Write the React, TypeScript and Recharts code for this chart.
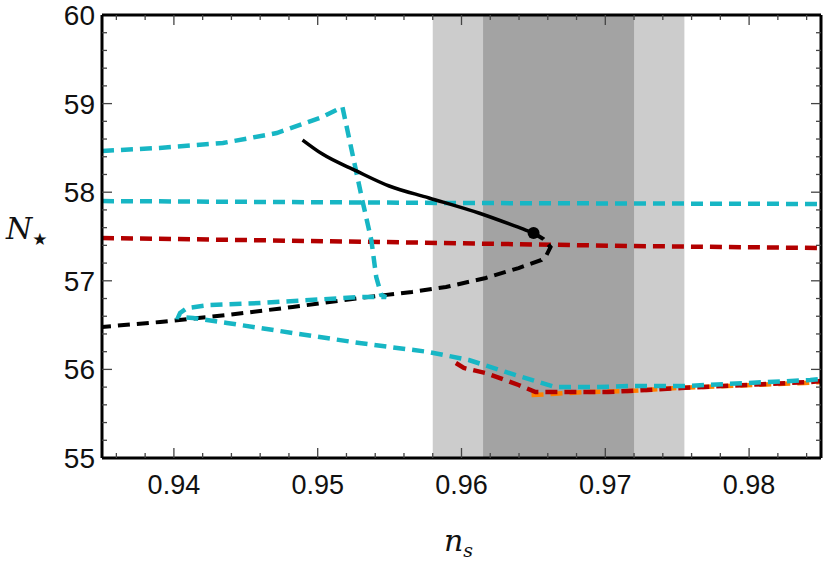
import React from 'react';
import { LineChart, Line, XAxis, YAxis, ReferenceArea, ReferenceDot } from 'recharts';

// ---- data (n_s, N_star) ----
const cyanLoop = [
  { ns: 0.935, N: 58.465 },
  { ns: 0.939, N: 58.5 },
  { ns: 0.94341, N: 58.555 },
  { ns: 0.94715, N: 58.668 },
  { ns: 0.95033, N: 58.849 },
  { ns: 0.95172, N: 58.962 },
  { ns: 0.9531, N: 57.912 },
  { ns: 0.95373, N: 57.46 },
  { ns: 0.95407, N: 57.043 },
  { ns: 0.95442, N: 56.84 },
  { ns: 0.95476, N: 56.817 },
  { ns: 0.9529, N: 56.817 },
  { ns: 0.94943, N: 56.783 },
  { ns: 0.94597, N: 56.749 },
  { ns: 0.94251, N: 56.727 },
  { ns: 0.94092, N: 56.693 },
  { ns: 0.94043, N: 56.637 },
  { ns: 0.9403, N: 56.59 },
  { ns: 0.94133, N: 56.58 },
  { ns: 0.94369, N: 56.524 },
  { ns: 0.94826, N: 56.411 },
  { ns: 0.9529, N: 56.298 },
  { ns: 0.95774, N: 56.196 },
  { ns: 0.96051, N: 56.106 },
  { ns: 0.96307, N: 55.971 },
  { ns: 0.96536, N: 55.858 },
  { ns: 0.96653, N: 55.8 },
  { ns: 0.9693, N: 55.8 },
  { ns: 0.97159, N: 55.813 },
  { ns: 0.97553, N: 55.813 },
  { ns: 0.98426, N: 55.88 },
  { ns: 0.985, N: 55.892 },
];

const cyanFlat = [
  { ns: 0.935, N: 57.9 },
  { ns: 0.9598, N: 57.878 },
  { ns: 0.985, N: 57.867 },
];

const redFlat = [
  { ns: 0.935, N: 57.483 },
  { ns: 0.95428, N: 57.438 },
  { ns: 0.97159, N: 57.393 },
  { ns: 0.985, N: 57.37 },
];

const blackSolid = [
  { ns: 0.94895, N: 58.589 },
  { ns: 0.95033, N: 58.43 },
  { ns: 0.95269, N: 58.24 },
  { ns: 0.95497, N: 58.07 },
  { ns: 0.95774, N: 57.935 },
  { ns: 0.9612, N: 57.765 },
  { ns: 0.96446, N: 57.573 },
  { ns: 0.96501, N: 57.54 },
];

const blackDashed = [
  { ns: 0.96501, N: 57.54 },
  { ns: 0.9657, N: 57.47 },
  { ns: 0.96619, N: 57.38 },
  { ns: 0.96591, N: 57.29 },
  { ns: 0.96556, N: 57.235 },
  { ns: 0.96397, N: 57.144 },
  { ns: 0.96169, N: 57.032 },
  { ns: 0.95892, N: 56.93 },
  { ns: 0.95656, N: 56.874 },
  { ns: 0.9529, N: 56.806 },
  { ns: 0.94826, N: 56.704 },
  { ns: 0.94369, N: 56.614 },
  { ns: 0.93905, N: 56.535 },
  { ns: 0.935, N: 56.479 },
];

const redLower = [
  { ns: 0.95961, N: 56.072 },
  { ns: 0.96016, N: 56.016 },
  { ns: 0.96169, N: 55.959 },
  { ns: 0.96397, N: 55.824 },
  { ns: 0.96515, N: 55.745 },
  { ns: 0.96653, N: 55.745 },
  { ns: 0.9702, N: 55.745 },
  { ns: 0.97159, N: 55.756 },
  { ns: 0.97526, N: 55.79 },
  { ns: 0.98426, N: 55.858 },
  { ns: 0.985, N: 55.869 },
];

const orangeLower = [
  { ns: 0.96487, N: 55.711 },
  { ns: 0.96625, N: 55.722 },
  { ns: 0.96861, N: 55.745 },
  { ns: 0.97159, N: 55.756 },
  { ns: 0.97505, N: 55.79 },
  { ns: 0.98384, N: 55.847 },
  { ns: 0.985, N: 55.858 },
];

const bestFit = { ns: 0.96501, N: 57.54 };

// n_s bands (2 sigma light, 1 sigma dark)
const band2 = [0.958, 0.9755];
const band1 = [0.9615, 0.972];

const xDomain = [0.935, 0.985];
const yDomain = [55, 60];
const xTicks = [
  0.936, 0.938, 0.94, 0.942, 0.944, 0.946, 0.948, 0.95, 0.952, 0.954, 0.956, 0.958, 0.96,
  0.962, 0.964, 0.966, 0.968, 0.97, 0.972, 0.974, 0.976, 0.978, 0.98, 0.982, 0.984,
];
const xMajorTicks = [0.94, 0.95, 0.96, 0.97, 0.98];
const yTicks = [
  55, 55.2, 55.4, 55.6, 55.8, 56, 56.2, 56.4, 56.6, 56.8, 57, 57.2, 57.4, 57.6, 57.8, 58,
  58.2, 58.4, 58.6, 58.8, 59, 59.2, 59.4, 59.6, 59.8, 60,
];
const yMajorTicks = [55, 56, 57, 58, 59, 60];

const CYAN = '#17b6c4';
const RED = '#b20000';
const ORANGE = '#ff8000';
const TICK = '#444';
const FONT = '"Liberation Sans", Arial, sans-serif';

const isMajor = (list: number[], v: number) => list.some((t) => Math.abs(t - v) < 1e-9);

const BottomTick = (props: any) => {
  const { x, y, payload } = props;
  const major = isMajor(xMajorTicks, payload.value);
  return (
    <g>
      <line x1={x} x2={x} y1={y} y2={y - (major ? 10 : 5)} stroke={TICK} strokeWidth={1.3} />
      {major && (
        <text x={x} y={y + 36} textAnchor="middle" fontSize={27} fontFamily={FONT} fill="#111">
          {payload.value.toFixed(2)}
        </text>
      )}
    </g>
  );
};

const TopTick = (props: any) => {
  const { x, y, payload } = props;
  const major = isMajor(xMajorTicks, payload.value);
  return <line x1={x} x2={x} y1={y} y2={y + (major ? 10 : 5)} stroke={TICK} strokeWidth={1.3} />;
};

const LeftTick = (props: any) => {
  const { x, y, payload } = props;
  const major = isMajor(yMajorTicks, payload.value);
  return (
    <g>
      {payload.value > 55 && payload.value < 60 && (
        <line x1={x} x2={x + (major ? 10 : 5)} y1={y} y2={y} stroke={TICK} strokeWidth={1.3} />
      )}
      {major && (
        <text x={x - 7} y={y + 10} textAnchor="end" fontSize={28} fontFamily={FONT} fill="#111">
          {payload.value}
        </text>
      )}
    </g>
  );
};

const RightTick = (props: any) => {
  const { x, y, payload } = props;
  const major = isMajor(yMajorTicks, payload.value);
  if (payload.value <= 55 || payload.value >= 60) return <g />;
  return <line x1={x} x2={x - (major ? 10 : 5)} y1={y} y2={y} stroke={TICK} strokeWidth={1.3} />;
};

const dashed = { strokeDasharray: '12 7', strokeWidth: 4.5, dot: false, isAnimationActive: false };
const frame = { stroke: '#000', strokeWidth: 3 };

export default function App() {
  return (
    <div style={{ position: 'absolute', left: 0, top: 0, width: 826, height: 565, background: '#fff' }}>
      <LineChart width={826} height={565} margin={{ top: 14, right: 4, bottom: 47, left: 2 }}>
        <XAxis
          xAxisId="b"
          type="number"
          dataKey="ns"
          domain={xDomain}
          ticks={xTicks}
          interval={0}
          height={60}
          tickSize={0}
          tickMargin={0}
          tickLine={false}
          tick={<BottomTick />}
          axisLine={frame}
          allowDataOverflow
        />
        <XAxis
          xAxisId="t"
          orientation="top"
          type="number"
          dataKey="ns"
          domain={xDomain}
          ticks={xTicks}
          interval={0}
          height={1}
          tickSize={0}
          tickMargin={0}
          tickLine={false}
          tick={<TopTick />}
          axisLine={frame}
          allowDataOverflow
        />
        <YAxis
          yAxisId="l"
          type="number"
          dataKey="N"
          domain={yDomain}
          ticks={yTicks}
          interval={0}
          width={100}
          tickSize={0}
          tickMargin={0}
          tickLine={false}
          tick={<LeftTick />}
          axisLine={frame}
          allowDataOverflow
        />
        <YAxis
          yAxisId="r"
          orientation="right"
          type="number"
          dataKey="N"
          domain={yDomain}
          ticks={yTicks}
          interval={0}
          width={1}
          tickSize={0}
          tickMargin={0}
          tickLine={false}
          tick={<RightTick />}
          axisLine={frame}
          allowDataOverflow
        />
        <ReferenceArea xAxisId="b" yAxisId="l" x1={band2[0]} x2={band2[1]} fill="#cccccc" fillOpacity={1} stroke="none" />
        <ReferenceArea xAxisId="b" yAxisId="l" x1={band1[0]} x2={band1[1]} fill="#a3a3a3" fillOpacity={1} stroke="none" />
        <Line xAxisId="b" yAxisId="l" data={orangeLower} dataKey="N" stroke={ORANGE} {...dashed} />
        <Line xAxisId="b" yAxisId="l" data={redLower} dataKey="N" stroke={RED} {...dashed} />
        <Line xAxisId="b" yAxisId="l" data={redFlat} dataKey="N" stroke={RED} {...dashed} />
        <Line xAxisId="b" yAxisId="l" data={blackDashed} dataKey="N" stroke="#000" {...dashed} strokeWidth={4} />
        <Line xAxisId="b" yAxisId="l" data={cyanFlat} dataKey="N" stroke={CYAN} {...dashed} />
        <Line xAxisId="b" yAxisId="l" data={cyanLoop} dataKey="N" stroke={CYAN} {...dashed} />
        <Line
          xAxisId="b"
          yAxisId="l"
          type="monotone"
          data={blackSolid}
          dataKey="N"
          stroke="#000"
          strokeWidth={3.5}
          dot={false}
          isAnimationActive={false}
        />
        <ReferenceDot xAxisId="b" yAxisId="l" x={bestFit.ns} y={bestFit.N} r={6} fill="#000" stroke="none" />
      </LineChart>
      <div
        style={{
          position: 'absolute',
          left: 6,
          top: 214,
          fontFamily: '"DejaVu Serif", "Liberation Serif", serif',
          fontStyle: 'italic',
          fontSize: 30,
          lineHeight: '30px',
          color: '#111',
          whiteSpace: 'nowrap',
        }}
      >
        N
        <span style={{ fontStyle: 'normal', fontSize: 17, fontFamily: '"DejaVu Sans", sans-serif', position: 'relative', top: 6 }}>
          ★
        </span>
      </div>
      <div
        style={{
          position: 'absolute',
          left: 444,
          top: 526,
          fontFamily: '"DejaVu Serif", "Liberation Serif", serif',
          fontStyle: 'italic',
          fontSize: 30,
          lineHeight: '30px',
          color: '#111',
          whiteSpace: 'nowrap',
        }}
      >
        n
        <span style={{ fontSize: 19, position: 'relative', top: 6 }}>s</span>
      </div>
    </div>
  );
}
